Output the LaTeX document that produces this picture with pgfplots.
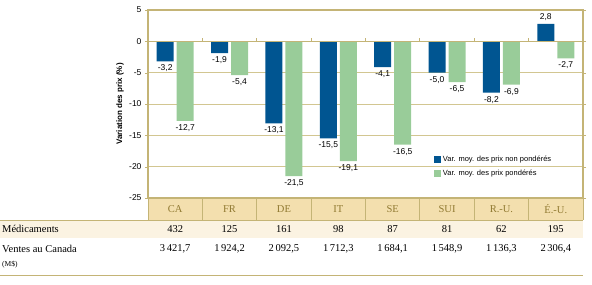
\documentclass[border=0pt]{standalone}
\usepackage{fontspec}
\setmainfont{Liberation Serif}
\newfontfamily\axfont{Liberation Sans}
\usepackage{pgfplots}
\pgfplotsset{compat=1.18}

\definecolor{barblue}{RGB}{0,85,145}
\definecolor{bargreen}{RGB}{153,204,153}
\definecolor{linetan}{RGB}{196,180,118}
\definecolor{gridtan}{RGB}{210,198,145}
\definecolor{bandfill}{RGB}{243,223,174}
\definecolor{bandtext}{RGB}{145,122,50}
\definecolor{rowfill}{RGB}{251,243,226}

\begin{document}
\begin{tikzpicture}[x=1pt,y=1pt]
\path[use as bounding box] (0,0) rectangle (592,284);
% table backgrounds
\fill[rowfill] (0,46) rectangle (583,64);
\fill[bandfill] (148,64) rectangle (583,86);

\begin{axis}[
    at={(148pt,86pt)}, anchor=south west,
    scale only axis, width=435pt, height=188pt,
    xmin=-0.5, xmax=7.5, ymin=-25, ymax=5,
    ybar=3pt, bar width=17pt,
    xtick=\empty,
    ytick={-25,-20,...,5},
    ymajorgrids, grid style={gridtan, line width=0.7pt},
    axis line style={linetan, line width=1.1pt},
    tick style={linetan}, major tick length=3pt, tick align=outside,
    yticklabel style={font=\axfont\fontsize{8.5}{10}\selectfont},
    /pgf/number format/assume math mode=true,
    ylabel={Variation des prix (\%)},
    ylabel style={font=\axfont\bfseries\fontsize{8}{9}\selectfont,
        at={(axis description cs:-0.064,0.5)}, anchor=center},
    nodes near coords,
    nodes near coords style={font=\axfont\fontsize{8.5}{10}\selectfont,
        /pgf/number format/.cd, fixed, fixed zerofill, precision=1,
        use comma, assume math mode=true},
    legend style={at={(axis description cs:0.65,0.245)}, anchor=north west,
        draw=none, fill=none, font=\axfont\fontsize{7.5}{9}\selectfont,
        row sep=3pt},
    legend cell align=left,
    legend image code/.code={\fill[#1,draw=none] (0pt,-3.5pt) rectangle (7pt,3.5pt);},
    clip=false,
]
\addplot[fill=barblue, draw=none] coordinates {
(0,-3.2)(1,-1.9)(2,-13.1)(3,-15.5)(4,-4.1)(5,-5.0)(6,-8.2)(7,2.8)
};
\addlegendentry{Var. moy. des prix non pondérés}
\addplot[fill=bargreen, draw=none] coordinates {
(0,-12.7)(1,-5.4)(2,-21.5)(3,-19.1)(4,-16.5)(5,-6.5)(6,-6.9)(7,-2.7)
};
\addlegendentry{Var. moy. des prix pondérés}
% zero line with category ticks
\draw[linetan, line width=1.2pt] (axis cs:-0.5,0) ++(-3pt,0pt) -- (axis cs:7.5,0);
\pgfplotsinvokeforeach{0.5,1.5,2.5,3.5,4.5,5.5,6.5}{
  \draw[linetan, line width=0.8pt] (axis cs:#1,0) -- ++(0pt,3pt);
}
% frame top and right
\draw[linetan, line width=1.2pt] (axis cs:-0.5,5) -- (axis cs:7.5,5) -- (axis cs:7.5,-25);
\end{axis}

% table below the chart
\draw[linetan, line width=0.9pt] (0,64) -- (583,64);
\draw[linetan, line width=0.9pt] (148,86) -- (583,86);
\foreach \k in {0,...,8}
  \draw[linetan, line width=0.9pt] ({148+54.375*\k},64) -- ({148+54.375*\k},86);
\draw[linetan, line width=0.9pt] (0,9) -- (583,9);

\foreach \c [count=\i from 0] in {CA,FR,DE,IT,SE,SUI,R.-U.,É.-U.}
  \node[text=bandtext, font=\fontsize{10.5}{12}\selectfont] at ({148+54.375*(\i+0.5)},75) {\c};
\foreach \v [count=\i from 0] in {432,125,161,98,87,81,62,195}
  \node[font=\fontsize{10.5}{12}\selectfont] at ({148+54.375*(\i+0.5)},55) {\v};
\foreach \v [count=\i from 0] in {{3\,421,7},{1\,924,2},{2\,092,5},{1\,712,3},{1\,684,1},{1\,548,9},{1\,136,3},{2\,306,4}}
  \node[font=\fontsize{10.5}{12}\selectfont] at ({148+54.375*(\i+0.5)},35) {\v};

\node[anchor=west, inner sep=0pt, font=\fontsize{10.5}{12}\selectfont] at (2,55) {Médicaments};
\node[anchor=west, inner sep=0pt, font=\fontsize{10.5}{12}\selectfont] at (2,35) {Ventes au Canada};
\node[anchor=west, inner sep=0pt, font=\fontsize{7.5}{9}\selectfont] at (2,19) {(M\$)};
\end{tikzpicture}
\end{document}
